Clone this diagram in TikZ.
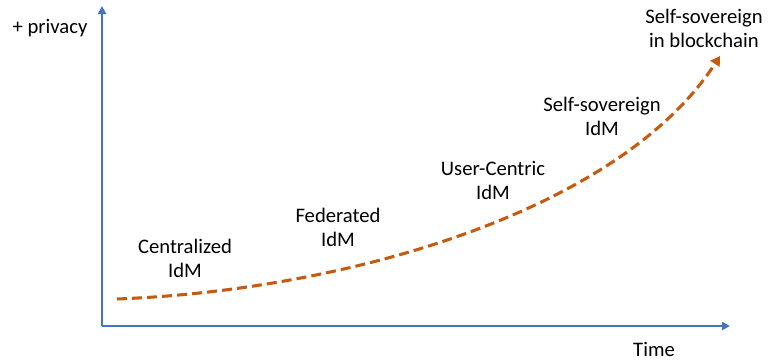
\documentclass[tikz,border=0pt]{standalone}
\usepackage{fontspec}
\setmainfont{Carlito}
\usetikzlibrary{arrows.meta}

\definecolor{axisblue}{RGB}{68,114,196}
\definecolor{curveorange}{RGB}{197,90,17}

\begin{document}
\begin{tikzpicture}[x=0.75pt,y=-0.75pt]
    \tikzstyle{axis}=[line width=1.5pt,draw=axisblue,-{Triangle[length=6pt,width=6pt]}]
    \tikzstyle{trend}=[line width=2.3pt,draw=curveorange,dash pattern=on 7.5pt off 3.8pt,-{Triangle[length=7pt,width=8pt]}]
    \tikzstyle{lbl}=[align=center,font=\fontsize{15.5pt}{18pt}\selectfont,inner sep=0pt]
    \useasboundingbox (0,0) rectangle (768,361);

    \coordinate (o) at (102,326);
    \coordinate (ytop) at (102,6);
    \coordinate (xend) at (730,326);
    \draw[axis] (o) -- (ytop);
    \draw[axis] (o) -- (xend);

    \node (privacy)[lbl] at (50,28) {+ privacy};
    \node (time)[lbl] at (654,349) {Time};

    \node (cent)[lbl] at (185,258) {Centralized\\IdM};
    \node (fed)[lbl] at (338,227) {Federated\\IdM};
    \node (user)[lbl] at (493,180) {User-Centric\\IdM};
    \node (ssi)[lbl] at (602,116) {Self-sovereign\\IdM};
    \node (chain)[lbl] at (704,28) {Self-sovereign\\in blockchain};

    \coordinate (start) at (117,299);
    \coordinate (stop) at (720,56);
    \draw[trend] (start) .. controls (350,290) and (620,210) .. (stop);
\end{tikzpicture}
\end{document}
